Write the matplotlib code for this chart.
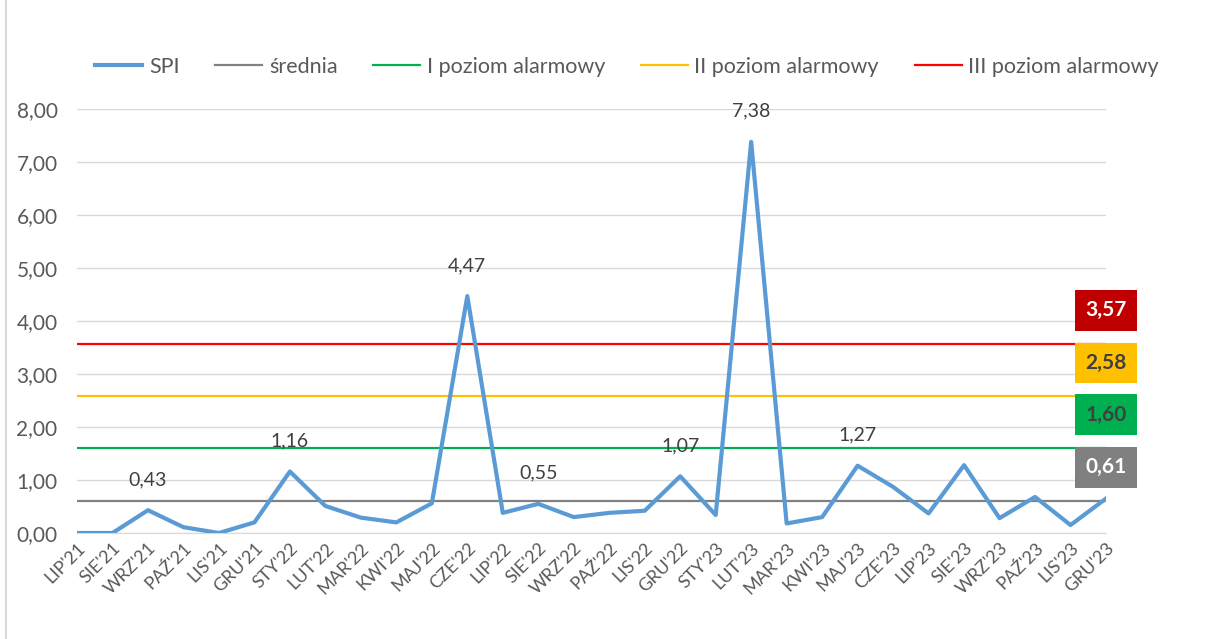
import matplotlib
matplotlib.use("Agg")
import matplotlib.pyplot as plt
from matplotlib.lines import Line2D

plt.rcParams['font.family'] = ['Lato', 'DejaVu Sans']

# data
months = ["LIP'21", "SIE'21", "WRZ'21", "PAŹ'21", "LIS'21", "GRU'21",
          "STY'22", "LUT'22", "MAR'22", "KWI'22", "MAJ'22", "CZE'22",
          "LIP'22", "SIE'22", "WRZ'22", "PAŹ'22", "LIS'22", "GRU'22",
          "STY'23", "LUT'23", "MAR'23", "KWI'23", "MAJ'23", "CZE'23",
          "LIP'23", "SIE'23", "WRZ'23", "PAŹ'23", "LIS'23", "GRU'23"]
spi = [0.00, 0.00, 0.43, 0.11, 0.00, 0.20,
       1.16, 0.51, 0.29, 0.20, 0.56, 4.47,
       0.38, 0.55, 0.30, 0.38, 0.42, 1.07,
       0.34, 7.38, 0.18, 0.30, 1.27, 0.87,
       0.37, 1.28, 0.28, 0.68, 0.15, 0.65]
labelled = ["WRZ'21", "STY'22", "CZE'22", "SIE'22", "GRU'22", "LUT'23", "MAJ'23"]

mean_val = 0.61
level_1 = 1.60
level_2 = 2.58
level_3 = 3.57

def pl(v):
    return ("%.2f" % v).replace('.', ',')

fig = plt.figure(figsize=(12.07, 6.39), dpi=100)
ax = fig.add_axes([77/1207, 106/639, (1106-77)/1207, (533-109)/639])

x = list(range(len(months)))
ax.set_xlim(0, len(months) - 1)
ax.set_ylim(0, 8)

hl = []
hl.append(ax.plot(x, spi, color='#5B9BD5', lw=3, solid_joinstyle='round', zorder=5)[0])
for val, col in [(mean_val, '#808080'), (level_1, '#00B050'), (level_2, '#FFC000'), (level_3, '#FF0000')]:
    hl.append(ax.plot(x, [val] * len(x), color=col, lw=1.6, zorder=4)[0])

# data labels on the peaks
for i, m in enumerate(months):
    if m in labelled:
        ax.annotate(pl(spi[i]), (i, spi[i]), xytext=(0, 22), textcoords='offset points',
                    ha='center', va='center', fontsize=14, color='#404040', zorder=6)

# value boxes on the right
boxes = [(level_3, '#C00000', 'white'), (level_2, '#FFC000', '#404040'),
         (level_1, '#00B050', '#404040'), (mean_val, '#808080', 'white')]
for val, fc, tc in boxes:
    ax.annotate(pl(val), (len(x) - 1, val), xytext=(0, 24), textcoords='offset points',
                ha='center', va='center', fontsize=15, fontweight='bold', color=tc,
                annotation_clip=False, zorder=7,
                bbox=dict(boxstyle='square,pad=0.5', fc=fc, ec='none'))

ax.set_yticks(range(0, 9))
ax.set_yticklabels([pl(v) for v in range(0, 9)], fontsize=15, color='#595959')
ax.set_xticks(x)
ax.set_xticklabels(months, rotation=45, ha='right', rotation_mode='anchor',
                   fontsize=13, color='#595959')
ax.tick_params(axis='both', length=0)
ax.tick_params(axis='y', pad=14)
ax.tick_params(axis='x', pad=5)
ax.grid(axis='y', color='#D9D9D9', lw=1)
ax.set_axisbelow(True)
for s in ['top', 'right', 'left']:
    ax.spines[s].set_visible(False)
ax.spines['bottom'].set_color('#D9D9D9')

fig.legend(hl, ['SPI', 'średnia', 'I poziom alarmowy', 'II poziom alarmowy', 'III poziom alarmowy'],
           loc='center', bbox_to_anchor=(627/1207, 1 - 67/639), ncol=5, frameon=False,
           fontsize=15.5, handlelength=2.2, handletextpad=0.3, columnspacing=1.65,
           labelcolor='#595959')

fig.add_artist(Line2D([6/1207, 6/1207], [0, 1], transform=fig.transFigure, color='#D9D9D9', lw=1.5))

fig.savefig('out.png', dpi=100)
